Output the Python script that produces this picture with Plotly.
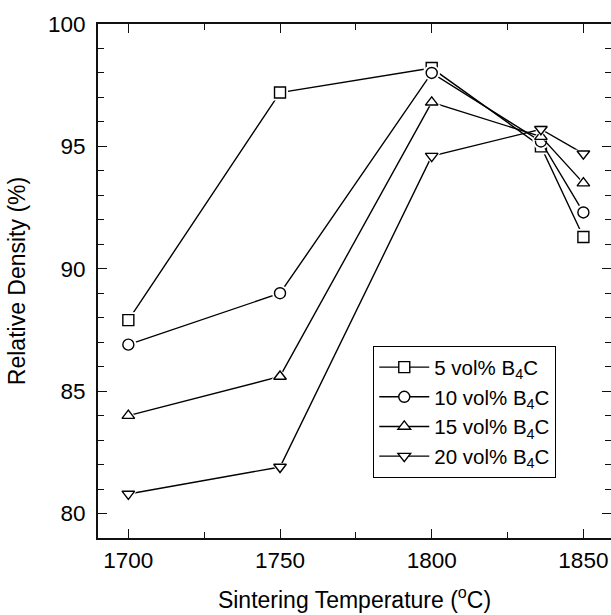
import plotly.graph_objects as go

temperatures = [1700, 1750, 1800, 1836, 1850]
density_5 = [87.9, 97.2, 98.2, 95.0, 91.3]
density_10 = [86.9, 89.0, 98.0, 95.2, 92.3]
density_15 = [84.0, 85.6, 96.8, 95.4, 93.5]
density_20 = [80.8, 81.9, 94.6, 95.7, 94.7]
series_names = ["5 vol% B<sub>4</sub>C", "10 vol% B<sub>4</sub>C",
                "15 vol% B<sub>4</sub>C", "20 vol% B<sub>4</sub>C"]
series_values = [density_5, density_10, density_15, density_20]
symbols = ["square", "circle", "triangle-up", "triangle-down"]
x_ticks = [1700, 1750, 1800, 1850]
y_ticks = [80, 85, 90, 95, 100]

FONT = "Arial, Liberation Sans, sans-serif"
MS = 11
TICK_COLOR = "#111"

fig = go.Figure()
for name, vals, sym in zip(series_names, series_values, symbols):
    fig.add_trace(go.Scatter(
        x=temperatures, y=vals, mode="lines+markers", name=name,
        line=dict(color="black", width=1.4),
        marker=dict(symbol=sym, size=MS, color="white",
                    line=dict(color="black", width=1.4)),
    ))
    fig.add_trace(go.Scatter(
        x=temperatures, y=vals, mode="markers", showlegend=False, hoverinfo="skip",
        marker=dict(symbol=sym, size=MS + 5, color="white",
                    line=dict(color="white", width=0)),
    ))
    fig.add_trace(go.Scatter(
        x=temperatures, y=vals, mode="markers", showlegend=False,
        marker=dict(symbol=sym, size=MS, color="white",
                    line=dict(color="black", width=1.4)),
    ))

# invisible trace to carry the right-hand tick axis
fig.add_trace(go.Scatter(x=[temperatures[0]], y=[density_5[0]], yaxis="y2",
                         mode="markers", marker=dict(opacity=0), showlegend=False,
                         hoverinfo="skip"))

tickfont = dict(family=FONT, size=22.5, color="black")

fig.update_xaxes(
    range=[1690, 1859.1], tickvals=x_ticks,
    showline=True, linecolor=TICK_COLOR, linewidth=2, mirror="ticks",
    ticks="inside", ticklen=9, tickwidth=1.3, tickcolor=TICK_COLOR,
    showgrid=False, zeroline=False, tickfont=tickfont,
    minor=dict(dtick=25, tick0=1700, ticks="inside", ticklen=6, tickwidth=1.3, tickcolor=TICK_COLOR),
    title=dict(text="Sintering Temperature (<sup>o</sup>C)",
               font=dict(family=FONT, size=23, color="black"), standoff=20),
    ticklabelstandoff=1,
)
fig.update_layout(
    yaxis=dict(
        range=[79, 100], tickvals=y_ticks,
        showline=True, linecolor=TICK_COLOR, linewidth=2, mirror=False,
        ticks="inside", ticklen=9, tickwidth=1.3, tickcolor=TICK_COLOR,
        showgrid=False, zeroline=False, tickfont=tickfont,
        minor=dict(dtick=1, tick0=80, ticks="inside", ticklen=6, tickwidth=1.3, tickcolor=TICK_COLOR),
        title=dict(text="Relative Density (%)",
                   font=dict(family=FONT, size=23, color="black"), standoff=16),
        ticklabelstandoff=6,
    ),
    yaxis2=dict(
        overlaying="y", side="right", anchor="x", matches="y",
        range=[79, 100], tickvals=y_ticks, showticklabels=False,
        showline=False, ticks="inside", ticklen=9, tickwidth=1.3, tickcolor=TICK_COLOR,
        showgrid=False, zeroline=False,
        minor=dict(dtick=1, tick0=80, ticks="inside", ticklen=6, tickwidth=1.3, tickcolor=TICK_COLOR),
    ),
    width=611, height=615,
    margin=dict(l=98, r=0, t=24, b=77),
    paper_bgcolor="white", plot_bgcolor="white",
    font=dict(family=FONT, color="black"),
    legend=dict(
        x=0.536, y=0.3735, xanchor="left", yanchor="top",
        bgcolor="white", bordercolor="black", borderwidth=1.3,
        font=dict(family=FONT, size=20.5, color="black"),
        itemwidth=50, tracegroupgap=0,
    ),
)

fig.write_html("out.html")
